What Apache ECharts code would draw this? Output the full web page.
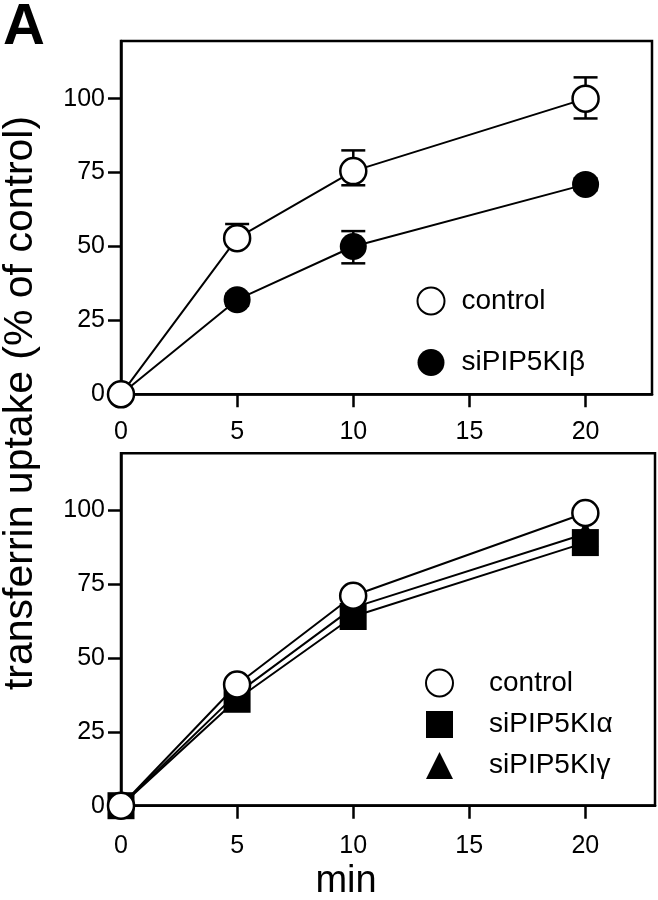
<!DOCTYPE html>
<html><head><meta charset="utf-8">
<script src="https://cdn.jsdelivr.net/npm/echarts@6/dist/echarts.min.js"></script>
<style>html,body{margin:0;padding:0;background:#fff}#c{width:658px;height:900px}</style>
</head><body><div id="c"></div>
<script>
// ---- data ----
const minutes = [0, 5, 10, 20];
const xTicks = [0, 5, 10, 15, 20];
const yTicks = [0, 25, 50, 75, 100];

const topControl = [0, 52.8, 75.5, 100];
const topControlErrUp = [0, 4.8, 7, 7.2];
const topControlErrDown = [0, 0, 4.8, 6.7];
const topBeta = [0, 32, 50, 71];
const topBetaErrUp = [0, 2, 5.2, 2];
const topBetaErrDown = [0, 2, 5.7, 2];

const bottomControl = [0, 41, 71, 99];
const bottomAlpha = [0, 36, 64, 89];
const bottomGamma = [0, 38, 67, 92];

const topNames = ['control', 'siPIP5KIβ'];
const bottomNames = ['control', 'siPIP5KIα', 'siPIP5KIγ'];

// ---- chart ----
const FONT = '"Liberation Sans", Arial, Helvetica, sans-serif';
const chart = echarts.init(document.getElementById('c'), null, {renderer: 'canvas'});
const pairs = (xs, ys) => xs.map((x, i) => [x, ys[i]]);
const errData = (xs, ys, up, dn) => xs.map((x, i) => [x, ys[i], up[i], dn[i]]);

function errRender(params, api) {
  const x = api.value(0), y = api.value(1), up = api.value(2), dn = api.value(3);
  const c = api.coord([x, y]), t = api.coord([x, y + up]), b = api.coord([x, y - dn]);
  const hw = 12;
  const style = {stroke: '#000', lineWidth: 2.5, fill: null};
  return {type: 'group', children: [
    {type: 'line', shape: {x1: c[0], y1: t[1], x2: c[0], y2: b[1]}, style},
    {type: 'line', shape: {x1: c[0] - hw, y1: t[1], x2: c[0] + hw, y2: t[1]}, style},
    {type: 'line', shape: {x1: c[0] - hw, y1: b[1], x2: c[0] + hw, y2: b[1]}, style}
  ]};
}

function xAxis(gi, max, margin) {
  return {
    gridIndex: gi, type: 'value', min: 0, max: max,
    axisLine: {show: true, onZero: false, lineStyle: {color: '#000', width: 2.5}},
    axisTick: {show: true, length: 13, customValues: xTicks, lineStyle: {color: '#000', width: 2.5}},
    axisLabel: {customValues: xTicks, fontSize: 25, color: '#000', fontFamily: FONT, margin: margin},
    splitLine: {show: false}
  };
}
function yAxis(gi, max) {
  return {
    gridIndex: gi, type: 'value', min: 0, max: max,
    axisLine: {show: true, onZero: false, lineStyle: {color: '#000', width: 2.5}},
    axisTick: {show: true, length: 13, customValues: yTicks, lineStyle: {color: '#000', width: 2.5}},
    axisLabel: {customValues: yTicks, fontSize: 25, color: '#000', fontFamily: FONT, margin: 16},
    splitLine: {show: false}
  };
}

const openCircle = {color: '#fff', borderColor: '#000', borderWidth: 2.5};
const filled = {color: '#000', borderColor: '#000', borderWidth: 0};
const lineSt = {color: '#000', width: 2};

const option = {
  animation: false,
  backgroundColor: '#fff',
  grid: [
    {left: 121, top: 41, width: 531, height: 353.3, show: true, borderColor: '#000', borderWidth: 2.5},
    {left: 121, top: 453.3, width: 534, height: 352.4, show: true, borderColor: '#000', borderWidth: 2.5}
  ],
  xAxis: [xAxis(0, 22.86, 25), xAxis(1, 23, 28)],
  yAxis: [yAxis(0, 119.5), yAxis(1, 119.2)],
  legend: [
    {
      data: [{name: topNames[0], icon: 'circle'}, {name: topNames[1], icon: 'circle'}],
      orient: 'vertical', left: 411.5, top: 281.5, padding: 5, itemWidth: 27, itemHeight: 27, itemGap: 33,
      selectedMode: false,
      textStyle: {fontSize: 28, fontFamily: FONT, color: '#000', padding: [0, 0, 0, 12]}
    },
    {
      data: [{name: bottomNames[0], icon: 'circle'}, {name: bottomNames[1], icon: 'rect'}, {name: bottomNames[2], icon: 'triangle'}],
      orient: 'vertical', left: 420, top: 663.5, padding: 5, itemWidth: 27, itemHeight: 27, itemGap: 13,
      selectedMode: false,
      textStyle: {fontSize: 28, fontFamily: FONT, color: '#000', padding: [0, 0, 0, 31]}
    }
  ],
  graphic: [
    {type: 'text', x: 3, y: 27.5, style: {text: 'A', font: 'bold 58px "Liberation Sans", Arial, sans-serif', fill: '#000', align: 'left', verticalAlign: 'middle', textAlign: 'left', textVerticalAlign: 'middle'}},
    {type: 'text', x: 21, y: 403, rotation: Math.PI / 2, style: {text: 'transferrin uptake (% of control)', font: '41px "Liberation Sans", Arial, sans-serif', fill: '#000', align: 'center', verticalAlign: 'middle', textAlign: 'center', textVerticalAlign: 'middle'}},
    {type: 'text', x: 346, y: 882, style: {text: 'min', font: '38px "Liberation Sans", Arial, sans-serif', fill: '#000', align: 'center', verticalAlign: 'middle', textAlign: 'center', textVerticalAlign: 'middle'}}
  ],
  series: [
    {type: 'custom', xAxisIndex: 0, yAxisIndex: 0, renderItem: errRender, data: errData(minutes, topControl, topControlErrUp, topControlErrDown), z: 1, silent: true},
    {type: 'custom', xAxisIndex: 0, yAxisIndex: 0, renderItem: errRender, data: errData(minutes, topBeta, topBetaErrUp, topBetaErrDown), z: 1, silent: true},
    {type: 'line', name: topNames[1], xAxisIndex: 0, yAxisIndex: 0, data: pairs(minutes, topBeta), symbol: 'circle', symbolSize: 27, lineStyle: lineSt, itemStyle: filled, z: 3, clip: false},
    {type: 'line', name: topNames[0], xAxisIndex: 0, yAxisIndex: 0, data: pairs(minutes, topControl), symbol: 'circle', symbolSize: 26, lineStyle: lineSt, itemStyle: openCircle, z: 4, clip: false},
    {type: 'line', name: bottomNames[2], xAxisIndex: 1, yAxisIndex: 1, data: pairs(minutes, bottomGamma), symbol: 'triangle', symbolSize: 26, lineStyle: lineSt, itemStyle: filled, z: 2, clip: false},
    {type: 'line', name: bottomNames[1], xAxisIndex: 1, yAxisIndex: 1, data: pairs(minutes, bottomAlpha), symbol: 'rect', symbolSize: 27, lineStyle: lineSt, itemStyle: filled, z: 3, clip: false},
    {type: 'line', name: bottomNames[0], xAxisIndex: 1, yAxisIndex: 1, data: pairs(minutes, bottomControl), symbol: 'circle', symbolSize: 26, lineStyle: lineSt, itemStyle: openCircle, z: 4, clip: false}
  ]
};
chart.setOption(option);
</script>
</body></html>
